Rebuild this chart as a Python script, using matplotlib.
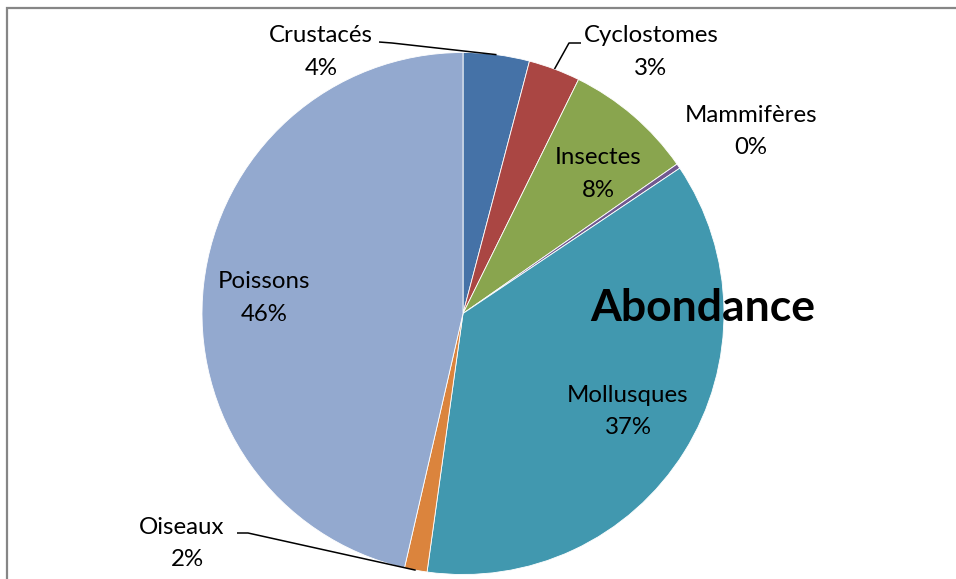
import numpy as np
import matplotlib
matplotlib.use("Agg")
import matplotlib.pyplot as plt
from matplotlib.patches import Rectangle

categories = ["Crustacés", "Cyclostomes", "Insectes", "Mammifères", "Mollusques", "Oiseaux", "Poissons"]
values = [4.1, 3.2, 8.0, 0.3, 36.6, 1.4, 46.4]
pct_labels = ["4%", "3%", "8%", "0%", "37%", "2%", "46%"]
colors = ["#4572A7", "#AA4643", "#89A54E", "#71588F", "#4198AF", "#DB843D", "#93A9CF"]
title = "Abondance"

W, H = 956, 579
fig = plt.figure(figsize=(W / 100, H / 100), dpi=100)
ax = fig.add_axes([0, 0, 1, 1])

cx, cy, R = 463, H - 313.5, 261
wedges, _ = ax.pie(values, colors=colors, startangle=90, counterclock=False,
                   radius=R, center=(cx, cy), frame=True,
                   wedgeprops=dict(edgecolor="white", linewidth=0.6))
ax.set_xlim(0, W)
ax.set_ylim(0, H)
ax.set_aspect("auto")
ax.axis("off")

# chart border
ax.add_patch(Rectangle((7.5, -20), W + 20, H - 7.5 + 20, fill=False,
                       edgecolor="#868686", linewidth=1.6, clip_on=False))

font = "Lato"
fs = 17.3

# label positions (pixel coords from top)
label_pos = {
    "Crustacés": (321, 36),
    "Cyclostomes": (651, 36),
    "Insectes": (598, 158),
    "Mammifères": (751, 115),
    "Mollusques": (628, 395),
    "Oiseaux": (182, 527),
    "Poissons": (264, 282),
}
pct_off = {"Oiseaux": 5}
for name, pct in zip(categories, pct_labels):
    x, y = label_pos[name]
    ax.text(x, H - y, name, ha="center", va="center", fontsize=fs, family=font, color="black")
    ax.text(x + pct_off.get(name, 0), H - y - 32.5, pct, ha="center", va="center",
            fontsize=fs, family=font, color="black")

# leader lines: from label side to wedge mid-angle on circumference
def edge_point(w):
    mid = np.deg2rad((w.theta1 + w.theta2) / 2)
    return cx + R * np.cos(mid), cy + R * np.sin(mid)

leaders = {
    "Crustacés": [(379, 42), (392, 43)],
    "Cyclostomes": [(581, 43), (569, 43)],
    "Oiseaux": [(237, 533), (248, 533)],
}
for name, pts in leaders.items():
    w = wedges[categories.index(name)]
    ex, ey = edge_point(w)
    xs = [p[0] for p in pts] + [ex]
    ys = [H - p[1] for p in pts] + [ey]
    ax.plot(xs, ys, color="black", linewidth=1.1, solid_capstyle="butt")

ax.text(703, H - 308, title, ha="center", va="center", fontsize=32,
        fontweight="bold", family=font, color="black")

fig.savefig("out.png", dpi=100)
